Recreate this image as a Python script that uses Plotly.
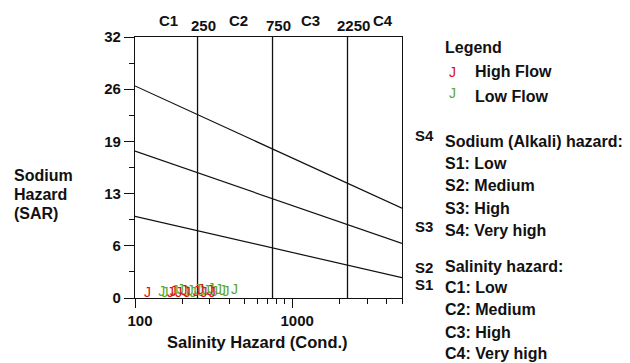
import math
import plotly.graph_objects as go

# ---------------- data ----------------
high_ec = [120, 168, 175, 190, 205, 215, 245, 262, 275, 300, 310]
high_sar = [0.6, 0.5, 0.7, 0.6, 0.8, 0.5, 0.7, 0.9, 0.6, 0.8, 0.5]
low_ec = [148, 155, 180, 195, 210, 225, 235, 250, 265, 285, 305, 320, 340, 360, 380, 430]
low_sar = [0.7, 0.6, 0.8, 0.9, 0.7, 0.8, 0.6, 0.9, 0.7, 0.8, 1.0, 0.7, 0.9, 0.8, 0.7, 0.9]

salinity_bounds = [250, 750, 2250]
line_ec = [100, 5000]
s12_line = [10, 2.5]
s23_line = [18, 6.7]
s34_line = [26, 11]

y_tickvals = [0, 6.4, 12.8, 19.2, 25.6, 32]
y_ticktext = ["0", "6", "13", "19", "26", "32"]
y_minor = [3.2, 9.6, 16.0, 22.4, 28.8]
x_tickvals = [100, 1000]
x_ticktext = ["100", "1000"]
x_minor = [200, 300, 400, 500, 600, 700, 800, 900, 2000, 3000, 4000, 5000]

RED = "#d01818"
GREEN = "#5fa82a"
INK = "#111111"
FONT = "Liberation Sans, Arial, sans-serif"

# plot area in pixels
L, R, T, B = 135, 402, 37, 298
W, H = 630, 363


def px(x):
    return (x - L) / (R - L)


def py(y):
    return (B - y) / (B - T)


fig = go.Figure()

for xb in salinity_bounds:
    fig.add_trace(go.Scatter(x=[xb, xb], y=[0, 32], mode="lines",
                             line=dict(color=INK, width=1.3),
                             hoverinfo="skip", showlegend=False))
for ys in (s12_line, s23_line, s34_line):
    fig.add_trace(go.Scatter(x=line_ec, y=ys, mode="lines",
                             line=dict(color=INK, width=1.2),
                             hoverinfo="skip", showlegend=False))

fig.add_trace(go.Scatter(x=low_ec, y=low_sar, mode="text", text=["J"] * len(low_ec),
                         textfont=dict(color=GREEN, size=14, family=FONT),
                         cliponaxis=False, name="Low Flow", showlegend=False))
fig.add_trace(go.Scatter(x=high_ec, y=high_sar, mode="text", text=["J"] * len(high_ec),
                         textfont=dict(color=RED, size=14, family=FONT),
                         cliponaxis=False, name="High Flow", showlegend=False))

ann = []


def txt(x, y, text, size=16, bold=True, anchor="left", color=INK):
    ann.append(dict(xref="paper", yref="paper", x=px(x), y=py(y),
                    text=("<b>%s</b>" % text) if bold else text,
                    showarrow=False, xanchor=anchor, yanchor="middle",
                    font=dict(size=size, color=color, family=FONT)))


# y title
txt(12, 175, "Sodium", 16)
txt(12, 194, "Hazard", 16)
txt(12, 213, "(SAR)", 16)
# x title
txt(257, 342, "Salinity Hazard (Cond.)", 16.5, anchor="center")

# top labels
txt(168, 21, "C1", 15, anchor="center")
txt(203, 25, "250", 15, anchor="center")
txt(238, 21, "C2", 15, anchor="center")
txt(278, 25, "750", 15, anchor="center")
txt(310, 21, "C3", 15, anchor="center")
txt(353, 25, "2250", 15, anchor="center")
txt(383, 21, "C4", 15, anchor="center")

# S labels
txt(413, 135, "S4", 15)
txt(413, 227, "S3", 15)
txt(413, 267, "S2", 15)
txt(413, 284, "S1", 15)

# legend
txt(443, 47, "Legend", 16)
txt(452, 72, "J", 14, bold=False, anchor="center", color=RED)
txt(473, 71, "High Flow", 16)
txt(452, 93, "J", 14, bold=False, anchor="center", color=GREEN)
txt(473, 96, "Low Flow", 16)

# hazard descriptions
rows = [("Sodium (Alkali) hazard:", 141), ("S1: Low", 163), ("S2: Medium", 185),
        ("S3: High", 208), ("S4: Very high", 230), ("Salinity hazard:", 266),
        ("C1: Low", 287), ("C2: Medium", 309), ("C3: High", 332), ("C4: Very high", 353)]
for t, y in rows:
    txt(443, y, t, 16)

fig.update_layout(
    width=W, height=H,
    margin=dict(l=L, r=W - R, t=T, b=H - B, pad=0),
    paper_bgcolor="white", plot_bgcolor="white",
    font=dict(family=FONT, color=INK),
    showlegend=False,
    annotations=ann,
    xaxis=dict(type="log", range=[2, math.log10(5000)], showgrid=False, zeroline=False,
               showline=True, linecolor=INK, linewidth=1.3, mirror=True,
               tickmode="array", tickvals=x_tickvals,
               ticktext=["<b>%s</b>" % t for t in x_ticktext],
               ticks="outside", ticklen=9, tickwidth=1.3, tickcolor=INK,
               tickfont=dict(size=15, family=FONT, color=INK),
               ticklabelshift=5, ticklabelstandoff=0,
               minor=dict(tickmode="array", tickvals=x_minor, ticks="outside",
                          ticklen=5, tickwidth=1.2, tickcolor=INK, showgrid=False)),
    yaxis=dict(range=[0, 32], showgrid=False, zeroline=False,
               showline=True, linecolor=INK, linewidth=1.3, mirror=True,
               tickmode="array", tickvals=y_tickvals,
               ticktext=["<b>%s</b>" % t for t in y_ticktext],
               ticks="outside", ticklen=10, tickwidth=1.3, tickcolor=INK,
               tickfont=dict(size=15, family=FONT, color=INK),
               ticklabelstandoff=0,
               minor=dict(tickmode="array", tickvals=y_minor, ticks="outside",
                          ticklen=5, tickwidth=1.2, tickcolor=INK, showgrid=False)),
)

fig.write_html("out.html")
